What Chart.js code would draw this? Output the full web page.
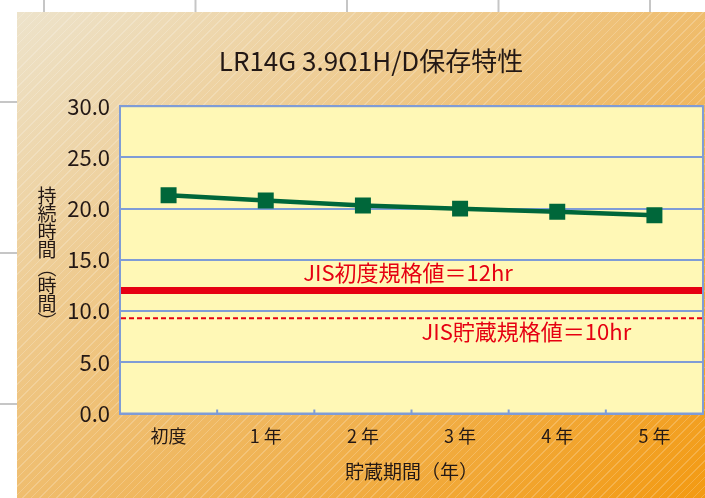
<!DOCTYPE html>
<html>
<head>
<meta charset="utf-8">
<script src="https://cdn.jsdelivr.net/npm/chart.js@4.4.1/dist/chart.umd.min.js"></script>
<style>
  html, body { margin: 0; padding: 0; }
  body {
    width: 705px; height: 498px; overflow: hidden; position: relative;
    background-color: #fff;
    background-image:
      linear-gradient(to right, #c6c6c6 2px, transparent 2px),
      linear-gradient(to bottom, #c6c6c6 2px, transparent 2px);
    background-size: 151.5px 151px;
    background-position: 43px 101px;
  }
  #panel {
    position: absolute; left: 17px; top: 12px; right: 0; bottom: 0;
    background-image:
      repeating-linear-gradient(135deg, rgba(255,255,255,0) 0 5px, rgba(255,255,255,0.2) 5px 6px),
      linear-gradient(to bottom right, #ede3cb 0%, #efbd6e 50%, #f39a12 100%);
  }
  #chart { position: absolute; left: 0; top: 0; }
</style>
</head>
<body>
<div id="panel"></div>
<canvas id="chart" width="705" height="498"></canvas>
<script>
// data
const chartTitle = "LR14G 3.9Ω1H/D保存特性";
const categories = ["初度", "1 年", "2 年", "3 年", "4 年", "5 年"];
const hours = [21.3, 20.8, 20.3, 20.0, 19.7, 19.35];
const yTicks = [0, 5, 10, 15, 20, 25, 30];
const refValues = [12, 9.3];
const refLabels = ["JIS初度規格値＝12hr", "JIS貯蔵規格値＝10hr"];
const xTitle = "貯蔵期間（年）";
const yTitle = "持続時間（時間）";

const FONT = '"Noto Sans CJK JP", "Noto Sans", sans-serif';
const TEXT = "#231815";
const BLUE = "#7f9cd6";
const RED = "#e60012";
const GREEN = "#00673a";

Chart.defaults.font.family = FONT;
Chart.defaults.color = TEXT;

// yellow plot area, frame, inner tick marks, JIS lines
const plotFrame = {
    id: "plotFrame",
    beforeDraw(chart) {
        const { ctx, chartArea: a } = chart;
        ctx.save();
        ctx.fillStyle = "#fff8b6";
        ctx.fillRect(a.left, a.top, a.width, a.height);
        ctx.restore();
    },
    beforeDatasetsDraw(chart) {
        const { ctx, chartArea: a, scales } = chart;
        const x = scales.x, y = scales.y;
        ctx.save();
        ctx.strokeStyle = BLUE;
        ctx.lineWidth = 2;
        ctx.strokeRect(a.left, a.top, a.width, a.height);

        // small ticks between categories, pointing into the plot
        ctx.beginPath();
        for (let i = 1; i < categories.length; i++) {
            const px = (x.getPixelForValue(i - 1) + x.getPixelForValue(i)) / 2;
            ctx.moveTo(px, a.bottom);
            ctx.lineTo(px, a.bottom - 4);
        }
        ctx.stroke();

        // JIS reference lines
        const styles = [
            { width: 7, dash: [], labelX: 0.494, labelDy: -18 },
            { width: 2, dash: [5, 3], labelX: 0.697, labelDy: 13 }
        ];
        refValues.forEach((v, i) => {
            const s = styles[i];
            const py = y.getPixelForValue(v);
            ctx.strokeStyle = RED;
            ctx.lineWidth = s.width;
            ctx.setLineDash(s.dash);
            ctx.beginPath();
            ctx.moveTo(a.left + 1, py);
            ctx.lineTo(a.right - 1, py);
            ctx.stroke();
            ctx.setLineDash([]);
            ctx.fillStyle = RED;
            ctx.font = "22px " + FONT;
            ctx.textAlign = "center";
            ctx.textBaseline = "middle";
            ctx.fillText(refLabels[i], a.left + a.width * s.labelX, py + s.labelDy);
        });
        ctx.restore();
    },
    afterDraw(chart) {
        // vertical y-axis title, one upright character per row
        const { ctx, chartArea: a } = chart;
        const chars = Array.from(yTitle).map(c => c === "（" ? "︵" : c === "）" ? "︶" : c);
        const step = 18;
        const cy = (a.top + a.bottom) / 2 - 1.5;
        ctx.save();
        ctx.fillStyle = TEXT;
        ctx.font = "19px " + FONT;
        ctx.textAlign = "center";
        ctx.textBaseline = "middle";
        chars.forEach((c, i) => {
            ctx.fillText(c, 47, cy + (i - (chars.length - 1) / 2) * step);
        });
        ctx.restore();
    }
};

new Chart(document.getElementById("chart"), {
    type: "line",
    data: {
        labels: categories,
        datasets: [
            {
                data: hours,
                borderColor: GREEN,
                borderWidth: 4.5,
                backgroundColor: GREEN,
                pointStyle: "rect",
                pointRadius: 11.3,
                pointBorderWidth: 0,
                pointBackgroundColor: GREEN,
                tension: 0
            }
        ]
    },
    options: {
        responsive: false,
        animation: false,
        layout: { autoPadding: false, padding: { left: 39, right: 2, top: 0, bottom: 0 } },
        plugins: {
            legend: { display: false },
            tooltip: { enabled: false },
            title: {
                display: true,
                text: chartTitle,
                color: TEXT,
                font: { size: 26, weight: "normal", lineHeight: 1.2 },
                padding: { top: 46, bottom: 29 }
            }
        },
        scales: {
            x: {
                offset: true,
                grid: { display: false, drawTicks: false },
                border: { display: true, color: BLUE, width: 2 },
                ticks: { color: TEXT, font: { size: 18 }, padding: 12 },
                title: {
                    display: true,
                    text: xTitle,
                    color: TEXT,
                    font: { size: 19, lineHeight: 1.2 },
                    padding: { top: 0, bottom: 15 }
                },
                afterFit(scale) {
                    scale.height = 84.5;
                    scale.paddingLeft = 0;
                    scale.paddingRight = 0;
                }
            },
            y: {
                min: yTicks[0],
                max: yTicks[yTicks.length - 1],
                ticks: {
                    stepSize: yTicks[1] - yTicks[0],
                    color: TEXT,
                    font: { size: 22 },
                    padding: 10,
                    callback: v => v.toFixed(1)
                },
                grid: { color: BLUE, lineWidth: 2, drawTicks: false },
                border: { display: true, color: BLUE, width: 2 },
                afterFit(scale) { scale.width = 81; }
            }
        }
    },
    plugins: [plotFrame]
});
</script>
</body>
</html>
